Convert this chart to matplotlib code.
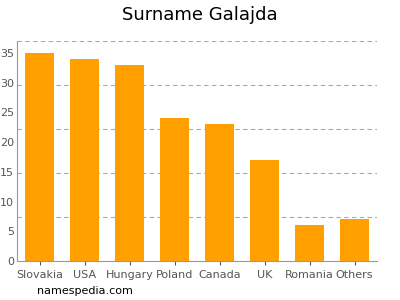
import numpy as np
import matplotlib
matplotlib.use("Agg")
import matplotlib.pyplot as plt

countries = ["Slovakia", "USA", "Hungary", "Poland", "Canada", "UK", "Romania", "Others"]
counts = [35, 34, 33, 24, 23, 17, 6, 7]
y_ticks = [0, 5, 10, 15, 20, 25, 30, 35]

ymax = 37
fig = plt.figure(figsize=(4, 3), dpi=100)
ax = fig.add_axes([0.0425, 0.13, 0.9, 0.733])

x = np.arange(len(countries))
ax.bar(x, counts, width=0.63, color="#ffa000", zorder=2)

ax.set_xlim(-0.5, len(countries) - 0.5)
ax.set_ylim(0, ymax)
for g in np.linspace(0, ymax, 6)[1:]:
    ax.axhline(g, color="#aaaaaa", linestyle=(0, (4, 3)), linewidth=0.8, zorder=1)

ax.set_xticks(x)
ax.set_xticklabels(countries)
ax.set_yticks(y_ticks)
ax.tick_params(axis="both", labelsize=8, colors="#555555", length=3, width=0.8)
ax.tick_params(axis="y", length=0, pad=2)
for s in ["top", "right"]:
    ax.spines[s].set_visible(False)
for s in ["left", "bottom"]:
    ax.spines[s].set_color("#999999")
    ax.spines[s].set_linewidth(0.8)

fig.text(0.5, 0.95, "Surname Galajda", ha="center", va="center", fontsize=13)
fig.text(0.093, 0.03, "namespedia.com", ha="left", va="center", fontsize=8)

fig.savefig("out.png", dpi=100)
